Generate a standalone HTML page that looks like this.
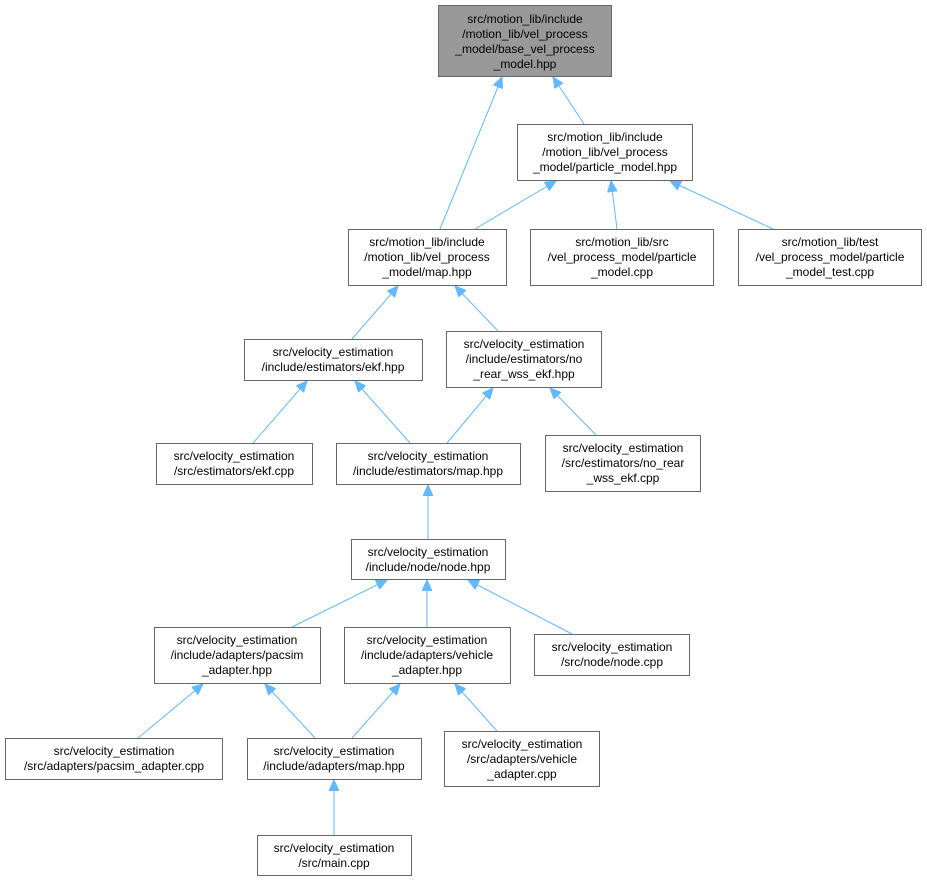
<!DOCTYPE html>
<html><head><meta charset="utf-8"><style>
html,body{margin:0;padding:0;background:#fff;}
svg{display:block;}
text{font-family:"Liberation Sans",Helvetica,Arial,sans-serif;font-size:12px;fill:#000;text-anchor:middle;}
rect{fill:#fff;stroke:#666;stroke-width:1;}
line{stroke:#63b8ff;stroke-width:1;}
</style></head><body>
<svg width="927" height="881" viewBox="0 0 927 881" xmlns="http://www.w3.org/2000/svg">
<defs>
<marker id="a" markerUnits="userSpaceOnUse" markerWidth="12" markerHeight="10" refX="11" refY="5" orient="auto">
<path d="M0,0 L11,5 L0,10 Z" fill="#63b8ff" stroke="#63b8ff"/>
</marker>
</defs>
<g>
<line x1="440" y1="229" x2="502" y2="77" marker-end="url(#a)"/>
<line x1="584" y1="124" x2="553" y2="77" marker-end="url(#a)"/>
<line x1="475" y1="229" x2="556" y2="181" marker-end="url(#a)"/>
<line x1="617" y1="229" x2="611" y2="181" marker-end="url(#a)"/>
<line x1="773" y1="229" x2="670" y2="181" marker-end="url(#a)"/>
<line x1="352" y1="339" x2="398" y2="286" marker-end="url(#a)"/>
<line x1="498" y1="331" x2="455" y2="286" marker-end="url(#a)"/>
<line x1="253" y1="443" x2="307" y2="381" marker-end="url(#a)"/>
<line x1="410" y1="443" x2="355" y2="381" marker-end="url(#a)"/>
<line x1="447" y1="443" x2="493" y2="388" marker-end="url(#a)"/>
<line x1="596" y1="435" x2="550" y2="388" marker-end="url(#a)"/>
<line x1="428" y1="539" x2="428" y2="485" marker-end="url(#a)"/>
<line x1="292" y1="627" x2="387" y2="580" marker-end="url(#a)"/>
<line x1="427" y1="627" x2="427" y2="580" marker-end="url(#a)"/>
<line x1="572" y1="634" x2="468" y2="580" marker-end="url(#a)"/>
<line x1="138" y1="738" x2="203" y2="684" marker-end="url(#a)"/>
<line x1="315" y1="738" x2="265" y2="684" marker-end="url(#a)"/>
<line x1="352" y1="738" x2="400" y2="684" marker-end="url(#a)"/>
<line x1="497" y1="731" x2="455" y2="684" marker-end="url(#a)"/>
<line x1="334" y1="835" x2="334" y2="780" marker-end="url(#a)"/>
</g>

<rect x="438.5" y="5.5" width="173" height="71" style="fill:#999;stroke:#666"/>
<text x="525" y="23">src/motion_lib/include</text>
<text x="525" y="38">/motion_lib/vel_process</text>
<text x="525" y="53">_model/base_vel_process</text>
<text x="525" y="68">_model.hpp</text>

<rect x="517.5" y="124.5" width="175" height="56"/>
<text x="605" y="141">src/motion_lib/include</text>
<text x="605" y="156">/motion_lib/vel_process</text>
<text x="605" y="171">_model/particle_model.hpp</text>

<rect x="348.5" y="229.5" width="158" height="56"/>
<text x="427" y="246">src/motion_lib/include</text>
<text x="427" y="261">/motion_lib/vel_process</text>
<text x="427" y="276">_model/map.hpp</text>

<rect x="530.5" y="229.5" width="183" height="56"/>
<text x="622" y="246">src/motion_lib/src</text>
<text x="622" y="261">/vel_process_model/particle</text>
<text x="622" y="276">_model.cpp</text>

<rect x="738.5" y="229.5" width="183" height="56"/>
<text x="830" y="246">src/motion_lib/test</text>
<text x="830" y="261">/vel_process_model/particle</text>
<text x="830" y="276">_model_test.cpp</text>

<rect x="244.5" y="339.5" width="178" height="41"/>
<text x="333" y="356">src/velocity_estimation</text>
<text x="333" y="371">/include/estimators/ekf.hpp</text>

<rect x="446.5" y="331.5" width="155" height="56"/>
<text x="524" y="348">src/velocity_estimation</text>
<text x="524" y="363">/include/estimators/no</text>
<text x="524" y="378">_rear_wss_ekf.hpp</text>

<rect x="156.5" y="443.5" width="156" height="41"/>
<text x="234" y="460">src/velocity_estimation</text>
<text x="234" y="475">/src/estimators/ekf.cpp</text>

<rect x="336.5" y="443.5" width="184" height="41"/>
<text x="428" y="460">src/velocity_estimation</text>
<text x="428" y="475">/include/estimators/map.hpp</text>

<rect x="545.5" y="435.5" width="155" height="56"/>
<text x="623" y="452">src/velocity_estimation</text>
<text x="623" y="467">/src/estimators/no_rear</text>
<text x="623" y="482">_wss_ekf.cpp</text>

<rect x="351.5" y="539.5" width="154" height="40"/>
<text x="428" y="556">src/velocity_estimation</text>
<text x="428" y="571">/include/node/node.hpp</text>

<rect x="154.5" y="627.5" width="166" height="56"/>
<text x="237" y="644">src/velocity_estimation</text>
<text x="237" y="659">/include/adapters/pacsim</text>
<text x="237" y="674">_adapter.hpp</text>

<rect x="344.5" y="627.5" width="166" height="56"/>
<text x="427" y="644">src/velocity_estimation</text>
<text x="427" y="659">/include/adapters/vehicle</text>
<text x="427" y="674">_adapter.hpp</text>

<rect x="534.5" y="634.5" width="155" height="41"/>
<text x="612" y="651">src/velocity_estimation</text>
<text x="612" y="666">/src/node/node.cpp</text>

<rect x="5.5" y="738.5" width="217" height="41"/>
<text x="114" y="755">src/velocity_estimation</text>
<text x="114" y="770">/src/adapters/pacsim_adapter.cpp</text>

<rect x="247.5" y="738.5" width="174" height="41"/>
<text x="334" y="755">src/velocity_estimation</text>
<text x="334" y="770">/include/adapters/map.hpp</text>

<rect x="444.5" y="731.5" width="155" height="55"/>
<text x="522" y="748">src/velocity_estimation</text>
<text x="522" y="763">/src/adapters/vehicle</text>
<text x="522" y="778">_adapter.cpp</text>

<rect x="257.5" y="835.5" width="154" height="40"/>
<text x="334" y="852">src/velocity_estimation</text>
<text x="334" y="867">/src/main.cpp</text>
</svg>
</body></html>
